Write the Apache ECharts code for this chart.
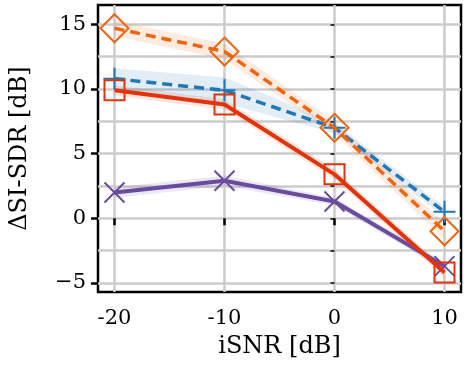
<!DOCTYPE html>
<html>
<head>
<meta charset="utf-8">
<script src="https://cdn.jsdelivr.net/npm/echarts@6/dist/echarts.min.js"></script>
<style>
html, body { margin: 0; padding: 0; background: #fff; }
#chart { width: 468px; height: 372px; }
</style>
</head>
<body>
<div id="chart"></div>
<script>
// x positions (iSNR in dB) and tick values
var isnr = [-20, -10, 0, 10];
var xTicks = [-20, -10, 0, 10];
var yTicks = [-5, 0, 5, 10, 15];
var yGrid = [-5, -2.5, 0, 2.5, 5, 7.5, 10, 12.5, 15];

// series values, plus the half width of the shaded band
var blueVals = [10.8, 9.9, 7.0, 0.5];
var blueBand = [0.8, 1.0, 0.4, 0.4];
var orangeVals = [14.7, 12.9, 7.0, -1.0];
var orangeBand = [0.6, 0.6, 0.5, 0.6];
var redVals = [9.9, 8.8, 3.4, -4.2];
var redBand = [0.4, 0.4, 0.4, 0.4];
var purpleVals = [2.0, 2.9, 1.3, -3.7];
var purpleBand = [0.4, 0.4, 0.3, 0.3];

var BLUE = '#2377b4';
var ORANGE = '#ee6411';
var RED = '#e0340c';
var PURPLE = '#6a4c9f';
var FONT = 'DejaVu Serif';

var plusPath = 'path://M0,10L20,10M10,0L10,20';
var crossPath = 'path://M0,0L20,20M0,20L20,0';

// shaded band drawn as one polygon through the axis scales
var band = function(vals, half, color) {
    return {
        type: 'custom',
        silent: true,
        z: 1,
        data: [[0, 0]],
        renderItem: function(params, api) {
            var pts = [];
            for (var i = 0; i < isnr.length; i++) pts.push(api.coord([isnr[i], vals[i] + half[i]]));
            for (var j = isnr.length - 1; j >= 0; j--) pts.push(api.coord([isnr[j], vals[j] - half[j]]));
            return {type: 'polygon', shape: {points: pts}, style: {fill: color, opacity: 0.13}};
        }
    };
};

var mainLine = function(vals, color, dashed, symbol, size, z) {
    var data = [];
    for (var i = 0; i < isnr.length; i++) data.push([isnr[i], vals[i]]);
    return {
        type: 'line',
        data: data,
        symbol: symbol,
        symbolSize: size,
        z: z,
        lineStyle: {color: color, width: dashed ? 3.5 : 4, type: dashed ? [10, 6] : 'solid'},
        itemStyle: {color: 'rgba(0,0,0,0)', borderColor: color, borderWidth: 2},
        emphasis: {disabled: true},
        animation: false
    };
};

var series = [
    band(blueVals, blueBand, BLUE),
    band(orangeVals, orangeBand, ORANGE),
    band(purpleVals, purpleBand, PURPLE),
    band(redVals, redBand, RED),
    mainLine(blueVals, BLUE, true, plusPath, 22, 3),
    mainLine(orangeVals, ORANGE, true, 'diamond', 28, 4),
    mainLine(purpleVals, PURPLE, false, crossPath, 20, 5),
    mainLine(redVals, RED, false, 'rect', 20, 6)
];

var myChart = echarts.init(document.getElementById('chart'));
var option = {
    animation: false,
    backgroundColor: '#fff',
    grid: {
        left: 96, right: 7, top: 5, bottom: 80,
        show: true, borderColor: '#000', borderWidth: 2.5, backgroundColor: 'transparent'
    },
    xAxis: {
        type: 'value',
        min: -21.5, max: 11.5,
        name: 'iSNR [dB]',
        nameLocation: 'middle',
        nameGap: 43,
        nameTextStyle: {fontFamily: FONT, fontSize: 24, color: '#000'},
        axisLine: {show: false},
        axisTick: {show: true, length: 7, customValues: xTicks, lineStyle: {color: '#000', width: 2.5}},
        axisLabel: {customValues: xTicks, margin: 16, fontFamily: FONT, fontSize: 21, color: '#000'},
        splitLine: {show: true, lineStyle: {color: '#cccccc', width: 2.5}}
    },
    yAxis: [{
        type: 'value',
        min: -5.7, max: 16.5,
        axisLine: {show: false},
        axisTick: {show: true, length: 4, customValues: yGrid, lineStyle: {color: '#000', width: 1.5}},
        axisLabel: {show: false},
        splitLine: {show: true, lineStyle: {color: '#cccccc', width: 2.5}}
    }, {
        type: 'value',
        position: 'left',
        min: -5.7, max: 16.5,
        name: '\u0394SI-SDR [dB]',
        nameLocation: 'middle',
        nameGap: 66,
        nameTextStyle: {fontFamily: FONT, fontSize: 24, color: '#000'},
        axisLine: {show: false},
        axisTick: {show: true, length: 7, customValues: yTicks, lineStyle: {color: '#000', width: 2.5}},
        axisLabel: {
            customValues: yTicks, margin: 12, fontFamily: FONT, fontSize: 21, color: '#000',
            formatter: function(v) { return v < 0 ? '\u2212' + (-v) : '' + v; }
        },
        splitLine: {show: false}
    }],
    series: series
};
myChart.setOption(option);
</script>
</body>
</html>
